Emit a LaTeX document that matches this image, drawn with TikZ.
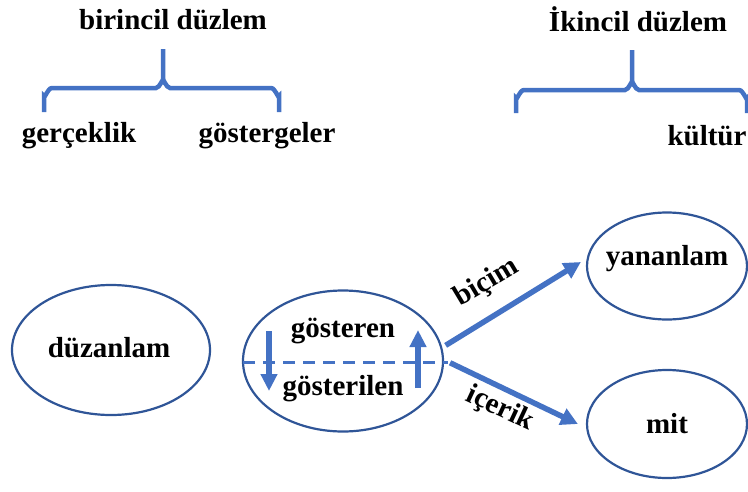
\documentclass[tikz,border=0pt]{standalone}
\usepackage{fontspec}
\setmainfont{Liberation Serif}
\usetikzlibrary{arrows.meta,shapes.geometric}
\definecolor{brc}{HTML}{4472C4}
\definecolor{ell}{HTML}{2F5597}
\tikzset{
  lbl/.style={font=\fontsize{29}{32}\selectfont\bfseries, inner sep=0pt, anchor=base},
  rlbl/.style={font=\fontsize{29}{32}\selectfont\bfseries, inner sep=0pt},
  oval/.style={draw=ell, line width=2.2pt, ellipse, inner sep=0pt},
  brace/.style={draw=brc, line width=4.5pt},
  arr/.style={draw=brc, line width=5.5pt, -{Triangle[length=17pt,width=17pt]}},
  varr/.style={draw=brc, line width=5.5pt, -{Triangle[length=17pt,width=16pt]}},
  dsh/.style={draw=brc, line width=3pt, dash pattern=on 12pt off 8pt}
}
\begin{document}
\begin{tikzpicture}[x=1pt,y=-1pt]
\useasboundingbox (0,0) rectangle (748,491);
% top labels
\node[lbl] (t1) at (173,29) {birincil düzlem};
\node[lbl] (g1) at (79,142) {gerçeklik};
\node[lbl] (g2) at (267,142) {göstergeler};
\node[lbl] (t2) at (638,31) {İkincil düzlem};
\node[lbl] (k1) at (707,145) {kültür};
% braces
\draw[brace] (44,112) -- (44,96) to[out=-90,in=180] (52,88) -- (156,88) to[out=0,in=90] (163,81) -- (163,49);
\draw[brace] (163,81) to[out=90,in=180] (170,88) -- (271,88) to[out=0,in=-90] (279,96) -- (279,112);
\draw[brace] (516,113) -- (516,98) to[out=-90,in=180] (524,90) -- (625,90) to[out=0,in=90] (632,83) -- (632,50);
\draw[brace] (632,83) to[out=90,in=180] (639,90) -- (739,90) to[out=0,in=-90] (747,98) -- (747,113);
% ellipses
\node[oval, minimum width=198pt, minimum height=130pt] (duz) at (111,350) {};
\node[oval, minimum width=200pt, minimum height=141pt] (mid) at (343,361) {};
\node[oval, minimum width=160pt, minimum height=107pt] (yan) at (667,266) {};
\node[oval, minimum width=160pt, minimum height=108pt] (mit) at (667,424) {};
% texts
\node[lbl] (tduz) at (109,357) {düzanlam};
\node[lbl] (tgos) at (343,337) {gösteren};
\node[lbl] (tgsl) at (343,395) {gösterilen};
\node[lbl] (tyan) at (667,265) {yananlam};
\node[lbl] (tmit) at (667,433) {mit};
% dashed divider
\coordinate (dl) at (243,362);
\coordinate (dr) at (448,362);
\draw[dsh] (dl) -- (dr);
% vertical arrows
\coordinate (a1s) at (269,331);
\coordinate (a1e) at (269,391);
\coordinate (a2s) at (418,388);
\coordinate (a2e) at (418,330);
\draw[varr] (a1s) -- (a1e);
\draw[varr] (a2s) -- (a2e);
% connectors
\draw[arr] ([shift={(4pt,0pt)}]mid.9) -- ([shift={(-5pt,4pt)}]yan.west);
\draw[arr] ([shift={(6pt,0pt)}]mid.-1) -- ([shift={(-8pt,0pt)}]mit.west);
% edge labels
\node[rlbl, rotate=31] (lb) at (487,283) {biçim};
\node[rlbl, rotate=-25] (li) at (500,409) {içerik};
\end{tikzpicture}
\end{document}
